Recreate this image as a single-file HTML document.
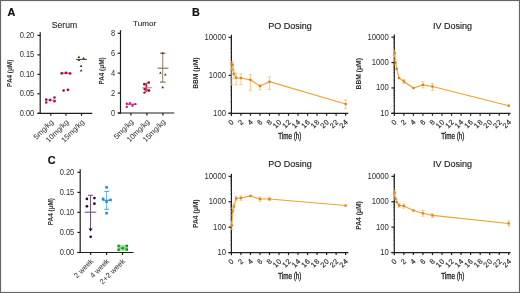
<!DOCTYPE html>
<html><head><meta charset="utf-8"><style>
html,body{margin:0;padding:0;background:#fff;width:520px;height:293px;overflow:hidden}
svg{display:block;will-change:transform}
text{font-family:"Liberation Sans", sans-serif}
</style></head><body>
<svg width="520" height="293" viewBox="0 0 520 293" font-family='"Liberation Sans", sans-serif'>
<rect x="0" y="0" width="520" height="293" fill="#fff"/>
<text transform="translate(7.6,15.5) scale(1.0,1)" font-size="10.8" font-weight="bold" fill="#111" stroke="#111" stroke-width="0.2">A</text>
<text x="0.00" y="0.00" font-size="9.3" text-anchor="middle" fill="#222" font-weight="normal" dominant-baseline="alphabetic" transform="translate(64.50,28.10) scale(0.93,1)" stroke="#222" stroke-width="0.1">Serum</text>
<line x1="40.20" y1="32.28" x2="40.20" y2="113.90" stroke="#1e1e1e" stroke-width="1.2" />
<line x1="37.40" y1="113.30" x2="40.20" y2="113.30" stroke="#1e1e1e" stroke-width="1.2" />
<text x="0.00" y="0.00" font-size="8.6" text-anchor="end" fill="#2e2e2e" font-weight="normal" dominant-baseline="central" transform="translate(34.20,113.20) scale(0.87,1)" >0.00</text>
<line x1="37.40" y1="93.82" x2="40.20" y2="93.82" stroke="#1e1e1e" stroke-width="1.2" />
<text x="0.00" y="0.00" font-size="8.6" text-anchor="end" fill="#2e2e2e" font-weight="normal" dominant-baseline="central" transform="translate(34.20,93.72) scale(0.87,1)" >0.05</text>
<line x1="37.40" y1="74.34" x2="40.20" y2="74.34" stroke="#1e1e1e" stroke-width="1.2" />
<text x="0.00" y="0.00" font-size="8.6" text-anchor="end" fill="#2e2e2e" font-weight="normal" dominant-baseline="central" transform="translate(34.20,74.24) scale(0.87,1)" >0.10</text>
<line x1="37.40" y1="54.86" x2="40.20" y2="54.86" stroke="#1e1e1e" stroke-width="1.2" />
<text x="0.00" y="0.00" font-size="8.6" text-anchor="end" fill="#2e2e2e" font-weight="normal" dominant-baseline="central" transform="translate(34.20,54.76) scale(0.87,1)" >0.15</text>
<line x1="37.40" y1="35.38" x2="40.20" y2="35.38" stroke="#1e1e1e" stroke-width="1.2" />
<text x="0.00" y="0.00" font-size="8.6" text-anchor="end" fill="#2e2e2e" font-weight="normal" dominant-baseline="central" transform="translate(34.20,35.28) scale(0.87,1)" >0.20</text>
<line x1="37.60" y1="113.30" x2="92.30" y2="113.30" stroke="#1e1e1e" stroke-width="1.2" />
<line x1="50.80" y1="113.30" x2="50.80" y2="115.80" stroke="#1e1e1e" stroke-width="1.2" />
<text x="0.00" y="0.00" font-size="7.5" text-anchor="end" fill="#2e2e2e" font-weight="normal" dominant-baseline="central" transform="translate(52.20,120.80) rotate(-45)" >5mg/kg</text>
<line x1="66.00" y1="113.30" x2="66.00" y2="115.80" stroke="#1e1e1e" stroke-width="1.2" />
<text x="0.00" y="0.00" font-size="7.5" text-anchor="end" fill="#2e2e2e" font-weight="normal" dominant-baseline="central" transform="translate(67.40,120.80) rotate(-45)" >10mg/kg</text>
<line x1="81.50" y1="113.30" x2="81.50" y2="115.80" stroke="#1e1e1e" stroke-width="1.2" />
<text x="0.00" y="0.00" font-size="7.5" text-anchor="end" fill="#2e2e2e" font-weight="normal" dominant-baseline="central" transform="translate(82.90,120.80) rotate(-45)" >15mg/kg</text>
<text x="0.00" y="0.00" font-size="7.9" text-anchor="middle" fill="#333" font-weight="bold" dominant-baseline="central" transform="translate(10.30,73.30) rotate(-90) scale(0.81,1)" >PA4 (μM)</text>
<line x1="45.00" y1="100.10" x2="56.00" y2="100.10" stroke="#ee5aa2" stroke-width="1.0" />
<line x1="50.20" y1="98.00" x2="50.20" y2="102.40" stroke="#f08cc0" stroke-width="0.7" />
<circle cx="46.20" cy="99.40" r="1.25" fill="#a00c58"/>
<circle cx="46.20" cy="102.60" r="1.25" fill="#a00c58"/>
<circle cx="50.10" cy="100.00" r="1.25" fill="#a00c58"/>
<circle cx="54.50" cy="97.50" r="1.25" fill="#a00c58"/>
<circle cx="54.50" cy="101.20" r="1.25" fill="#a00c58"/>
<line x1="61.00" y1="73.20" x2="71.30" y2="73.20" stroke="#e83c5c" stroke-width="1.2" />
<circle cx="61.70" cy="73.30" r="1.35" fill="#b00c30"/>
<circle cx="66.00" cy="72.80" r="1.35" fill="#b00c30"/>
<circle cx="70.10" cy="73.50" r="1.35" fill="#b00c30"/>
<circle cx="63.60" cy="90.50" r="1.35" fill="#b00c30"/>
<circle cx="67.90" cy="89.80" r="1.35" fill="#b00c30"/>
<line x1="76.10" y1="59.40" x2="86.90" y2="59.40" stroke="#4a3a28" stroke-width="1.0" />
<polygon points="78.90,55.39 77.50,57.91 80.30,57.91" fill="#5a3c1e"/>
<polygon points="78.90,58.49 77.50,61.01 80.30,61.01" fill="#5a3c1e"/>
<polygon points="83.60,56.69 82.20,59.21 85.00,59.21" fill="#5a3c1e"/>
<polygon points="81.10,64.49 79.70,67.01 82.50,67.01" fill="#5a3c1e"/>
<polygon points="81.10,68.99 79.70,71.51 82.50,71.51" fill="#5a3c1e"/>
<text x="144.60" y="25.50" font-size="8.1" text-anchor="middle" fill="#222" font-weight="normal" dominant-baseline="alphabetic" stroke="#222" stroke-width="0.1">Tumor</text>
<line x1="120.50" y1="30.18" x2="120.50" y2="113.60" stroke="#1e1e1e" stroke-width="1.2" />
<line x1="117.70" y1="113.00" x2="120.50" y2="113.00" stroke="#1e1e1e" stroke-width="1.2" />
<text x="0.00" y="0.00" font-size="8.6" text-anchor="end" fill="#2e2e2e" font-weight="normal" dominant-baseline="central" transform="translate(115.10,112.90) scale(0.87,1)" >0</text>
<line x1="117.70" y1="93.07" x2="120.50" y2="93.07" stroke="#1e1e1e" stroke-width="1.2" />
<text x="0.00" y="0.00" font-size="8.6" text-anchor="end" fill="#2e2e2e" font-weight="normal" dominant-baseline="central" transform="translate(115.10,92.97) scale(0.87,1)" >2</text>
<line x1="117.70" y1="73.14" x2="120.50" y2="73.14" stroke="#1e1e1e" stroke-width="1.2" />
<text x="0.00" y="0.00" font-size="8.6" text-anchor="end" fill="#2e2e2e" font-weight="normal" dominant-baseline="central" transform="translate(115.10,73.04) scale(0.87,1)" >4</text>
<line x1="117.70" y1="53.21" x2="120.50" y2="53.21" stroke="#1e1e1e" stroke-width="1.2" />
<text x="0.00" y="0.00" font-size="8.6" text-anchor="end" fill="#2e2e2e" font-weight="normal" dominant-baseline="central" transform="translate(115.10,53.11) scale(0.87,1)" >6</text>
<line x1="117.70" y1="33.28" x2="120.50" y2="33.28" stroke="#1e1e1e" stroke-width="1.2" />
<text x="0.00" y="0.00" font-size="8.6" text-anchor="end" fill="#2e2e2e" font-weight="normal" dominant-baseline="central" transform="translate(115.10,33.18) scale(0.87,1)" >8</text>
<line x1="117.80" y1="113.00" x2="174.20" y2="113.00" stroke="#1e1e1e" stroke-width="1.2" />
<line x1="130.90" y1="113.00" x2="130.90" y2="115.50" stroke="#1e1e1e" stroke-width="1.2" />
<text x="0.00" y="0.00" font-size="7.5" text-anchor="end" fill="#2e2e2e" font-weight="normal" dominant-baseline="central" transform="translate(132.30,120.50) rotate(-45)" >5mg/kg</text>
<line x1="146.90" y1="113.00" x2="146.90" y2="115.50" stroke="#1e1e1e" stroke-width="1.2" />
<text x="0.00" y="0.00" font-size="7.5" text-anchor="end" fill="#2e2e2e" font-weight="normal" dominant-baseline="central" transform="translate(148.30,120.50) rotate(-45)" >10mg/kg</text>
<line x1="162.90" y1="113.00" x2="162.90" y2="115.50" stroke="#1e1e1e" stroke-width="1.2" />
<text x="0.00" y="0.00" font-size="7.5" text-anchor="end" fill="#2e2e2e" font-weight="normal" dominant-baseline="central" transform="translate(164.30,120.50) rotate(-45)" >15mg/kg</text>
<text x="0.00" y="0.00" font-size="7.9" text-anchor="middle" fill="#333" font-weight="bold" dominant-baseline="central" transform="translate(101.80,71.00) rotate(-90) scale(0.81,1)" >PA4 (μM)</text>
<line x1="126.00" y1="104.30" x2="136.40" y2="104.30" stroke="#ec3a96" stroke-width="1.4" />
<circle cx="126.80" cy="103.60" r="1.15" fill="#c41476"/>
<circle cx="126.80" cy="107.00" r="1.15" fill="#c41476"/>
<circle cx="129.90" cy="103.10" r="1.15" fill="#c41476"/>
<circle cx="132.50" cy="105.80" r="1.15" fill="#c41476"/>
<circle cx="135.40" cy="104.10" r="1.15" fill="#c41476"/>
<line x1="146.30" y1="84.00" x2="146.30" y2="92.00" stroke="#dc1436" stroke-width="1.6" />
<line x1="144.20" y1="84.20" x2="148.80" y2="82.50" stroke="#dc1436" stroke-width="1.0" />
<line x1="144.50" y1="89.30" x2="149.10" y2="90.60" stroke="#f04070" stroke-width="2.2" />
<line x1="142.30" y1="87.80" x2="152.10" y2="87.80" stroke="#b07080" stroke-width="0.9" />
<circle cx="148.80" cy="82.50" r="1.2" fill="#8a0a26"/>
<circle cx="144.20" cy="84.20" r="1.2" fill="#8a0a26"/>
<circle cx="144.50" cy="89.10" r="1.2" fill="#8a0a26"/>
<circle cx="149.10" cy="90.50" r="1.2" fill="#8a0a26"/>
<circle cx="144.50" cy="92.60" r="1.2" fill="#8a0a26"/>
<line x1="162.70" y1="53.20" x2="162.70" y2="82.10" stroke="#a08a6e" stroke-width="1.1" />
<line x1="160.00" y1="53.20" x2="165.40" y2="53.20" stroke="#6a5644" stroke-width="1.0" />
<line x1="160.00" y1="82.10" x2="165.40" y2="82.10" stroke="#6a5644" stroke-width="1.0" />
<line x1="157.60" y1="68.20" x2="168.40" y2="68.20" stroke="#7e6c58" stroke-width="1.1" />
<polygon points="162.70,51.70 161.40,54.04 164.00,54.04" fill="#4a3420"/>
<polygon points="160.40,71.40 159.10,73.74 161.70,73.74" fill="#4a3420"/>
<polygon points="165.30,73.20 164.00,75.54 166.60,75.54" fill="#4a3420"/>
<polygon points="162.70,85.80 161.40,88.14 164.00,88.14" fill="#4a3420"/>
<text transform="translate(47.8,163.9) scale(1.0,1)" font-size="10.8" font-weight="bold" fill="#111" stroke="#111" stroke-width="0.2">C</text>
<line x1="80.20" y1="169.24" x2="80.20" y2="253.10" stroke="#1e1e1e" stroke-width="1.2" />
<line x1="77.40" y1="252.50" x2="80.20" y2="252.50" stroke="#1e1e1e" stroke-width="1.2" />
<text x="0.00" y="0.00" font-size="8.6" text-anchor="end" fill="#2e2e2e" font-weight="normal" dominant-baseline="central" transform="translate(74.20,252.40) scale(0.87,1)" >0.00</text>
<line x1="77.40" y1="232.46" x2="80.20" y2="232.46" stroke="#1e1e1e" stroke-width="1.2" />
<text x="0.00" y="0.00" font-size="8.6" text-anchor="end" fill="#2e2e2e" font-weight="normal" dominant-baseline="central" transform="translate(74.20,232.36) scale(0.87,1)" >0.05</text>
<line x1="77.40" y1="212.42" x2="80.20" y2="212.42" stroke="#1e1e1e" stroke-width="1.2" />
<text x="0.00" y="0.00" font-size="8.6" text-anchor="end" fill="#2e2e2e" font-weight="normal" dominant-baseline="central" transform="translate(74.20,212.32) scale(0.87,1)" >0.10</text>
<line x1="77.40" y1="192.38" x2="80.20" y2="192.38" stroke="#1e1e1e" stroke-width="1.2" />
<text x="0.00" y="0.00" font-size="8.6" text-anchor="end" fill="#2e2e2e" font-weight="normal" dominant-baseline="central" transform="translate(74.20,192.28) scale(0.87,1)" >0.15</text>
<line x1="77.40" y1="172.34" x2="80.20" y2="172.34" stroke="#1e1e1e" stroke-width="1.2" />
<text x="0.00" y="0.00" font-size="8.6" text-anchor="end" fill="#2e2e2e" font-weight="normal" dominant-baseline="central" transform="translate(74.20,172.24) scale(0.87,1)" >0.20</text>
<line x1="77.40" y1="252.50" x2="133.60" y2="252.50" stroke="#1e1e1e" stroke-width="1.2" />
<line x1="90.70" y1="252.50" x2="90.70" y2="255.00" stroke="#1e1e1e" stroke-width="1.2" />
<text x="0.00" y="0.00" font-size="7.5" text-anchor="end" fill="#2e2e2e" font-weight="normal" dominant-baseline="central" transform="translate(92.10,260.00) rotate(-45)" >2 week</text>
<line x1="106.60" y1="252.50" x2="106.60" y2="255.00" stroke="#1e1e1e" stroke-width="1.2" />
<text x="0.00" y="0.00" font-size="7.5" text-anchor="end" fill="#2e2e2e" font-weight="normal" dominant-baseline="central" transform="translate(108.00,260.00) rotate(-45)" >4 week</text>
<line x1="122.50" y1="252.50" x2="122.50" y2="255.00" stroke="#1e1e1e" stroke-width="1.2" />
<text x="0.00" y="0.00" font-size="7.5" text-anchor="end" fill="#2e2e2e" font-weight="normal" dominant-baseline="central" transform="translate(123.90,260.00) rotate(-45)" >2+2 week</text>
<text x="0.00" y="0.00" font-size="7.9" text-anchor="middle" fill="#333" font-weight="bold" dominant-baseline="central" transform="translate(50.40,211.60) rotate(-90) scale(0.81,1)" >PA4 (μM)</text>
<line x1="90.50" y1="195.30" x2="90.50" y2="229.20" stroke="#74547e" stroke-width="1.1" />
<line x1="88.00" y1="195.30" x2="93.00" y2="195.30" stroke="#74547e" stroke-width="1.1" />
<line x1="84.60" y1="212.20" x2="96.20" y2="212.20" stroke="#74547e" stroke-width="1.1" />
<polygon points="88.5,228.6 92.7,228.6 90.6,231.6" fill="#2a0a2e"/>
<circle cx="86.90" cy="198.90" r="1.35" fill="#2a0a2e"/>
<circle cx="94.40" cy="198.10" r="1.35" fill="#2a0a2e"/>
<circle cx="86.90" cy="206.30" r="1.35" fill="#2a0a2e"/>
<circle cx="94.40" cy="203.70" r="1.35" fill="#2a0a2e"/>
<circle cx="90.70" cy="236.80" r="1.35" fill="#2a0a2e"/>
<line x1="106.60" y1="191.40" x2="106.60" y2="209.30" stroke="#50b4ec" stroke-width="0.9" />
<line x1="104.40" y1="191.40" x2="108.90" y2="191.40" stroke="#3aa0dc" stroke-width="1.0" />
<line x1="104.40" y1="209.30" x2="108.90" y2="209.30" stroke="#3aa0dc" stroke-width="1.0" />
<line x1="102.40" y1="200.30" x2="110.80" y2="200.30" stroke="#30b0f0" stroke-width="1.4" />
<rect x="105.30" y="186.00" width="2.6" height="2.6" fill="#2f88c6"/>
<rect x="101.80" y="197.60" width="2.6" height="2.6" fill="#2f88c6"/>
<rect x="105.30" y="200.30" width="2.6" height="2.6" fill="#2f88c6"/>
<rect x="109.20" y="198.70" width="2.6" height="2.6" fill="#2f88c6"/>
<rect x="105.30" y="211.90" width="2.6" height="2.6" fill="#2f88c6"/>
<rect x="117.6" y="245.0" width="10.5" height="5.7" fill="#92e892"/>
<line x1="117.60" y1="248.10" x2="128.10" y2="248.10" stroke="#52d052" stroke-width="1.0" />
<rect x="117.45" y="244.65" width="2.3" height="2.3" fill="#1c8a2a"/>
<rect x="117.45" y="248.75" width="2.3" height="2.3" fill="#1c8a2a"/>
<rect x="121.55" y="247.05" width="2.3" height="2.3" fill="#1c8a2a"/>
<rect x="125.65" y="244.65" width="2.3" height="2.3" fill="#1c8a2a"/>
<rect x="125.65" y="248.45" width="2.3" height="2.3" fill="#1c8a2a"/>
<text transform="translate(192.0,15.8) scale(1.0,1)" font-size="10.8" font-weight="bold" fill="#111" stroke="#111" stroke-width="0.2">B</text>
<line x1="231.40" y1="34.80" x2="231.40" y2="116.10" stroke="#1e1e1e" stroke-width="1.2" />
<line x1="228.50" y1="113.30" x2="231.40" y2="113.30" stroke="#1e1e1e" stroke-width="1.2" />
<text x="0.00" y="0.00" font-size="8.6" text-anchor="end" fill="#2e2e2e" font-weight="normal" dominant-baseline="central" transform="translate(226.00,113.20) scale(0.9,1)" >100</text>
<line x1="230.10" y1="101.88" x2="231.40" y2="101.88" stroke="#444" stroke-width="0.5" />
<line x1="230.10" y1="95.19" x2="231.40" y2="95.19" stroke="#444" stroke-width="0.5" />
<line x1="230.10" y1="90.45" x2="231.40" y2="90.45" stroke="#444" stroke-width="0.5" />
<line x1="230.10" y1="86.77" x2="231.40" y2="86.77" stroke="#444" stroke-width="0.5" />
<line x1="230.10" y1="83.77" x2="231.40" y2="83.77" stroke="#444" stroke-width="0.5" />
<line x1="230.10" y1="81.23" x2="231.40" y2="81.23" stroke="#444" stroke-width="0.5" />
<line x1="230.10" y1="79.03" x2="231.40" y2="79.03" stroke="#444" stroke-width="0.5" />
<line x1="230.10" y1="77.09" x2="231.40" y2="77.09" stroke="#444" stroke-width="0.5" />
<line x1="228.50" y1="75.35" x2="231.40" y2="75.35" stroke="#1e1e1e" stroke-width="1.2" />
<text x="0.00" y="0.00" font-size="8.6" text-anchor="end" fill="#2e2e2e" font-weight="normal" dominant-baseline="central" transform="translate(226.00,75.25) scale(0.9,1)" >1000</text>
<line x1="230.10" y1="63.93" x2="231.40" y2="63.93" stroke="#444" stroke-width="0.5" />
<line x1="230.10" y1="57.24" x2="231.40" y2="57.24" stroke="#444" stroke-width="0.5" />
<line x1="230.10" y1="52.50" x2="231.40" y2="52.50" stroke="#444" stroke-width="0.5" />
<line x1="230.10" y1="48.82" x2="231.40" y2="48.82" stroke="#444" stroke-width="0.5" />
<line x1="230.10" y1="45.82" x2="231.40" y2="45.82" stroke="#444" stroke-width="0.5" />
<line x1="230.10" y1="43.28" x2="231.40" y2="43.28" stroke="#444" stroke-width="0.5" />
<line x1="230.10" y1="41.08" x2="231.40" y2="41.08" stroke="#444" stroke-width="0.5" />
<line x1="230.10" y1="39.14" x2="231.40" y2="39.14" stroke="#444" stroke-width="0.5" />
<line x1="228.50" y1="37.40" x2="231.40" y2="37.40" stroke="#1e1e1e" stroke-width="1.2" />
<text x="0.00" y="0.00" font-size="8.6" text-anchor="end" fill="#2e2e2e" font-weight="normal" dominant-baseline="central" transform="translate(226.00,37.30) scale(0.9,1)" >10000</text>
<line x1="228.50" y1="113.30" x2="348.30" y2="113.30" stroke="#1e1e1e" stroke-width="1.2" />
<line x1="240.92" y1="113.30" x2="240.92" y2="115.80" stroke="#1e1e1e" stroke-width="1.2" />
<line x1="250.44" y1="113.30" x2="250.44" y2="115.80" stroke="#1e1e1e" stroke-width="1.2" />
<line x1="259.96" y1="113.30" x2="259.96" y2="115.80" stroke="#1e1e1e" stroke-width="1.2" />
<line x1="269.48" y1="113.30" x2="269.48" y2="115.80" stroke="#1e1e1e" stroke-width="1.2" />
<line x1="279.00" y1="113.30" x2="279.00" y2="115.80" stroke="#1e1e1e" stroke-width="1.2" />
<line x1="288.52" y1="113.30" x2="288.52" y2="115.80" stroke="#1e1e1e" stroke-width="1.2" />
<line x1="298.04" y1="113.30" x2="298.04" y2="115.80" stroke="#1e1e1e" stroke-width="1.2" />
<line x1="307.56" y1="113.30" x2="307.56" y2="115.80" stroke="#1e1e1e" stroke-width="1.2" />
<line x1="317.08" y1="113.30" x2="317.08" y2="115.80" stroke="#1e1e1e" stroke-width="1.2" />
<line x1="326.60" y1="113.30" x2="326.60" y2="115.80" stroke="#1e1e1e" stroke-width="1.2" />
<line x1="336.12" y1="113.30" x2="336.12" y2="115.80" stroke="#1e1e1e" stroke-width="1.2" />
<line x1="345.64" y1="113.30" x2="345.64" y2="115.80" stroke="#1e1e1e" stroke-width="1.2" />
<text x="0.00" y="0.00" font-size="7.3" text-anchor="end" fill="#2e2e2e" font-weight="normal" dominant-baseline="central" transform="translate(232.90,120.40) rotate(-45)" stroke="#2e2e2e" stroke-width="0.18" letter-spacing="0.6">0</text>
<text x="0.00" y="0.00" font-size="7.3" text-anchor="end" fill="#2e2e2e" font-weight="normal" dominant-baseline="central" transform="translate(242.42,120.40) rotate(-45)" stroke="#2e2e2e" stroke-width="0.18" letter-spacing="0.6">2</text>
<text x="0.00" y="0.00" font-size="7.3" text-anchor="end" fill="#2e2e2e" font-weight="normal" dominant-baseline="central" transform="translate(251.94,120.40) rotate(-45)" stroke="#2e2e2e" stroke-width="0.18" letter-spacing="0.6">4</text>
<text x="0.00" y="0.00" font-size="7.3" text-anchor="end" fill="#2e2e2e" font-weight="normal" dominant-baseline="central" transform="translate(261.46,120.40) rotate(-45)" stroke="#2e2e2e" stroke-width="0.18" letter-spacing="0.6">6</text>
<text x="0.00" y="0.00" font-size="7.3" text-anchor="end" fill="#2e2e2e" font-weight="normal" dominant-baseline="central" transform="translate(270.98,120.40) rotate(-45)" stroke="#2e2e2e" stroke-width="0.18" letter-spacing="0.6">8</text>
<text x="0.00" y="0.00" font-size="7.3" text-anchor="end" fill="#2e2e2e" font-weight="normal" dominant-baseline="central" transform="translate(280.50,120.40) rotate(-45)" stroke="#2e2e2e" stroke-width="0.18" letter-spacing="0.6">10</text>
<text x="0.00" y="0.00" font-size="7.3" text-anchor="end" fill="#2e2e2e" font-weight="normal" dominant-baseline="central" transform="translate(290.02,120.40) rotate(-45)" stroke="#2e2e2e" stroke-width="0.18" letter-spacing="0.6">12</text>
<text x="0.00" y="0.00" font-size="7.3" text-anchor="end" fill="#2e2e2e" font-weight="normal" dominant-baseline="central" transform="translate(299.54,120.40) rotate(-45)" stroke="#2e2e2e" stroke-width="0.18" letter-spacing="0.6">14</text>
<text x="0.00" y="0.00" font-size="7.3" text-anchor="end" fill="#2e2e2e" font-weight="normal" dominant-baseline="central" transform="translate(309.06,120.40) rotate(-45)" stroke="#2e2e2e" stroke-width="0.18" letter-spacing="0.6">16</text>
<text x="0.00" y="0.00" font-size="7.3" text-anchor="end" fill="#2e2e2e" font-weight="normal" dominant-baseline="central" transform="translate(318.58,120.40) rotate(-45)" stroke="#2e2e2e" stroke-width="0.18" letter-spacing="0.6">18</text>
<text x="0.00" y="0.00" font-size="7.3" text-anchor="end" fill="#2e2e2e" font-weight="normal" dominant-baseline="central" transform="translate(328.10,120.40) rotate(-45)" stroke="#2e2e2e" stroke-width="0.18" letter-spacing="0.6">20</text>
<text x="0.00" y="0.00" font-size="7.3" text-anchor="end" fill="#2e2e2e" font-weight="normal" dominant-baseline="central" transform="translate(337.62,120.40) rotate(-45)" stroke="#2e2e2e" stroke-width="0.18" letter-spacing="0.6">22</text>
<text x="0.00" y="0.00" font-size="7.3" text-anchor="end" fill="#2e2e2e" font-weight="normal" dominant-baseline="central" transform="translate(347.14,120.40) rotate(-45)" stroke="#2e2e2e" stroke-width="0.18" letter-spacing="0.6">24</text>
<text x="289.90" y="28.70" font-size="9.0" text-anchor="middle" fill="#222" font-weight="normal" dominant-baseline="alphabetic" stroke="#222" stroke-width="0.15">PO Dosing</text>
<text x="0.00" y="0.00" font-size="8.2" text-anchor="middle" fill="#2a2a2a" font-weight="normal" dominant-baseline="central" transform="translate(289.80,136.10) scale(0.77,1)" stroke="#2a2a2a" stroke-width="0.35">Time (h)</text>
<text x="0.00" y="0.00" font-size="7.9" text-anchor="middle" fill="#333" font-weight="bold" dominant-baseline="central" transform="translate(195.40,73.20) rotate(-90) scale(0.85,1)" >BBM (μM)</text>
<polyline fill="none" stroke="#f0a02c" stroke-width="1.1" points="231.80,69.80 232.59,64.77 233.78,73.78 236.16,77.84 240.92,78.03 250.44,79.87 259.96,86.13 269.48,81.71 345.64,104.08"/>
<line x1="231.80" y1="63.12" x2="231.80" y2="84.91" stroke="#f2bc66" stroke-width="0.75" />
<line x1="230.20" y1="63.12" x2="233.40" y2="63.12" stroke="#f2bc66" stroke-width="0.75" />
<line x1="230.20" y1="84.91" x2="233.40" y2="84.91" stroke="#f2bc66" stroke-width="0.75" />
<rect x="230.65" y="68.65" width="2.3" height="2.3" fill="#e0801e"/>
<line x1="232.59" y1="61.62" x2="232.59" y2="68.67" stroke="#f2bc66" stroke-width="0.75" />
<line x1="230.99" y1="61.62" x2="234.19" y2="61.62" stroke="#f2bc66" stroke-width="0.75" />
<line x1="230.99" y1="68.67" x2="234.19" y2="68.67" stroke="#f2bc66" stroke-width="0.75" />
<rect x="231.44" y="63.62" width="2.3" height="2.3" fill="#e0801e"/>
<line x1="233.78" y1="69.80" x2="233.78" y2="79.03" stroke="#f2bc66" stroke-width="0.75" />
<line x1="232.18" y1="69.80" x2="235.38" y2="69.80" stroke="#f2bc66" stroke-width="0.75" />
<line x1="232.18" y1="79.03" x2="235.38" y2="79.03" stroke="#f2bc66" stroke-width="0.75" />
<rect x="232.63" y="72.63" width="2.3" height="2.3" fill="#e0801e"/>
<line x1="236.16" y1="73.05" x2="236.16" y2="84.91" stroke="#f2bc66" stroke-width="0.75" />
<line x1="234.56" y1="73.05" x2="237.76" y2="73.05" stroke="#f2bc66" stroke-width="0.75" />
<line x1="234.56" y1="84.91" x2="237.76" y2="84.91" stroke="#f2bc66" stroke-width="0.75" />
<rect x="235.01" y="76.69" width="2.3" height="2.3" fill="#e0801e"/>
<line x1="240.92" y1="73.87" x2="240.92" y2="84.50" stroke="#f2bc66" stroke-width="0.75" />
<line x1="239.32" y1="73.87" x2="242.52" y2="73.87" stroke="#f2bc66" stroke-width="0.75" />
<line x1="239.32" y1="84.50" x2="242.52" y2="84.50" stroke="#f2bc66" stroke-width="0.75" />
<rect x="239.77" y="76.88" width="2.3" height="2.3" fill="#e0801e"/>
<line x1="250.44" y1="74.67" x2="250.44" y2="90.29" stroke="#f2bc66" stroke-width="0.75" />
<line x1="248.84" y1="74.67" x2="252.04" y2="74.67" stroke="#f2bc66" stroke-width="0.75" />
<line x1="248.84" y1="90.29" x2="252.04" y2="90.29" stroke="#f2bc66" stroke-width="0.75" />
<rect x="249.29" y="78.72" width="2.3" height="2.3" fill="#e0801e"/>
<line x1="259.96" y1="84.50" x2="259.96" y2="89.81" stroke="#f2bc66" stroke-width="0.75" />
<line x1="258.36" y1="84.50" x2="261.56" y2="84.50" stroke="#f2bc66" stroke-width="0.75" />
<line x1="258.36" y1="89.81" x2="261.56" y2="89.81" stroke="#f2bc66" stroke-width="0.75" />
<rect x="258.81" y="84.98" width="2.3" height="2.3" fill="#e0801e"/>
<line x1="269.48" y1="76.94" x2="269.48" y2="89.34" stroke="#f2bc66" stroke-width="0.75" />
<line x1="267.88" y1="76.94" x2="271.08" y2="76.94" stroke="#f2bc66" stroke-width="0.75" />
<line x1="267.88" y1="89.34" x2="271.08" y2="89.34" stroke="#f2bc66" stroke-width="0.75" />
<rect x="268.33" y="80.56" width="2.3" height="2.3" fill="#e0801e"/>
<line x1="345.64" y1="99.93" x2="345.64" y2="108.35" stroke="#f2bc66" stroke-width="0.75" />
<line x1="344.04" y1="99.93" x2="347.24" y2="99.93" stroke="#f2bc66" stroke-width="0.75" />
<line x1="344.04" y1="108.35" x2="347.24" y2="108.35" stroke="#f2bc66" stroke-width="0.75" />
<rect x="344.49" y="102.93" width="2.3" height="2.3" fill="#e0801e"/>
<line x1="394.30" y1="34.56" x2="394.30" y2="116.10" stroke="#1e1e1e" stroke-width="1.2" />
<line x1="391.40" y1="113.30" x2="394.30" y2="113.30" stroke="#1e1e1e" stroke-width="1.2" />
<text x="0.00" y="0.00" font-size="8.6" text-anchor="end" fill="#2e2e2e" font-weight="normal" dominant-baseline="central" transform="translate(388.90,113.20) scale(0.9,1)" >10</text>
<line x1="393.00" y1="105.66" x2="394.30" y2="105.66" stroke="#444" stroke-width="0.5" />
<line x1="393.00" y1="101.19" x2="394.30" y2="101.19" stroke="#444" stroke-width="0.5" />
<line x1="393.00" y1="98.02" x2="394.30" y2="98.02" stroke="#444" stroke-width="0.5" />
<line x1="393.00" y1="95.56" x2="394.30" y2="95.56" stroke="#444" stroke-width="0.5" />
<line x1="393.00" y1="93.55" x2="394.30" y2="93.55" stroke="#444" stroke-width="0.5" />
<line x1="393.00" y1="91.85" x2="394.30" y2="91.85" stroke="#444" stroke-width="0.5" />
<line x1="393.00" y1="90.38" x2="394.30" y2="90.38" stroke="#444" stroke-width="0.5" />
<line x1="393.00" y1="89.08" x2="394.30" y2="89.08" stroke="#444" stroke-width="0.5" />
<line x1="391.40" y1="87.92" x2="394.30" y2="87.92" stroke="#1e1e1e" stroke-width="1.2" />
<text x="0.00" y="0.00" font-size="8.6" text-anchor="end" fill="#2e2e2e" font-weight="normal" dominant-baseline="central" transform="translate(388.90,87.82) scale(0.9,1)" >100</text>
<line x1="393.00" y1="80.28" x2="394.30" y2="80.28" stroke="#444" stroke-width="0.5" />
<line x1="393.00" y1="75.81" x2="394.30" y2="75.81" stroke="#444" stroke-width="0.5" />
<line x1="393.00" y1="72.64" x2="394.30" y2="72.64" stroke="#444" stroke-width="0.5" />
<line x1="393.00" y1="70.18" x2="394.30" y2="70.18" stroke="#444" stroke-width="0.5" />
<line x1="393.00" y1="68.17" x2="394.30" y2="68.17" stroke="#444" stroke-width="0.5" />
<line x1="393.00" y1="66.47" x2="394.30" y2="66.47" stroke="#444" stroke-width="0.5" />
<line x1="393.00" y1="65.00" x2="394.30" y2="65.00" stroke="#444" stroke-width="0.5" />
<line x1="393.00" y1="63.70" x2="394.30" y2="63.70" stroke="#444" stroke-width="0.5" />
<line x1="391.40" y1="62.54" x2="394.30" y2="62.54" stroke="#1e1e1e" stroke-width="1.2" />
<text x="0.00" y="0.00" font-size="8.6" text-anchor="end" fill="#2e2e2e" font-weight="normal" dominant-baseline="central" transform="translate(388.90,62.44) scale(0.9,1)" >1000</text>
<line x1="393.00" y1="54.90" x2="394.30" y2="54.90" stroke="#444" stroke-width="0.5" />
<line x1="393.00" y1="50.43" x2="394.30" y2="50.43" stroke="#444" stroke-width="0.5" />
<line x1="393.00" y1="47.26" x2="394.30" y2="47.26" stroke="#444" stroke-width="0.5" />
<line x1="393.00" y1="44.80" x2="394.30" y2="44.80" stroke="#444" stroke-width="0.5" />
<line x1="393.00" y1="42.79" x2="394.30" y2="42.79" stroke="#444" stroke-width="0.5" />
<line x1="393.00" y1="41.09" x2="394.30" y2="41.09" stroke="#444" stroke-width="0.5" />
<line x1="393.00" y1="39.62" x2="394.30" y2="39.62" stroke="#444" stroke-width="0.5" />
<line x1="393.00" y1="38.32" x2="394.30" y2="38.32" stroke="#444" stroke-width="0.5" />
<line x1="391.40" y1="37.16" x2="394.30" y2="37.16" stroke="#1e1e1e" stroke-width="1.2" />
<text x="0.00" y="0.00" font-size="8.6" text-anchor="end" fill="#2e2e2e" font-weight="normal" dominant-baseline="central" transform="translate(388.90,37.06) scale(0.9,1)" >10000</text>
<line x1="391.40" y1="113.30" x2="510.60" y2="113.30" stroke="#1e1e1e" stroke-width="1.2" />
<line x1="403.84" y1="113.30" x2="403.84" y2="115.80" stroke="#1e1e1e" stroke-width="1.2" />
<line x1="413.38" y1="113.30" x2="413.38" y2="115.80" stroke="#1e1e1e" stroke-width="1.2" />
<line x1="422.92" y1="113.30" x2="422.92" y2="115.80" stroke="#1e1e1e" stroke-width="1.2" />
<line x1="432.46" y1="113.30" x2="432.46" y2="115.80" stroke="#1e1e1e" stroke-width="1.2" />
<line x1="442.00" y1="113.30" x2="442.00" y2="115.80" stroke="#1e1e1e" stroke-width="1.2" />
<line x1="451.54" y1="113.30" x2="451.54" y2="115.80" stroke="#1e1e1e" stroke-width="1.2" />
<line x1="461.08" y1="113.30" x2="461.08" y2="115.80" stroke="#1e1e1e" stroke-width="1.2" />
<line x1="470.62" y1="113.30" x2="470.62" y2="115.80" stroke="#1e1e1e" stroke-width="1.2" />
<line x1="480.16" y1="113.30" x2="480.16" y2="115.80" stroke="#1e1e1e" stroke-width="1.2" />
<line x1="489.70" y1="113.30" x2="489.70" y2="115.80" stroke="#1e1e1e" stroke-width="1.2" />
<line x1="499.24" y1="113.30" x2="499.24" y2="115.80" stroke="#1e1e1e" stroke-width="1.2" />
<line x1="508.78" y1="113.30" x2="508.78" y2="115.80" stroke="#1e1e1e" stroke-width="1.2" />
<text x="0.00" y="0.00" font-size="7.3" text-anchor="end" fill="#2e2e2e" font-weight="normal" dominant-baseline="central" transform="translate(395.80,120.40) rotate(-45)" stroke="#2e2e2e" stroke-width="0.18" letter-spacing="0.6">0</text>
<text x="0.00" y="0.00" font-size="7.3" text-anchor="end" fill="#2e2e2e" font-weight="normal" dominant-baseline="central" transform="translate(405.34,120.40) rotate(-45)" stroke="#2e2e2e" stroke-width="0.18" letter-spacing="0.6">2</text>
<text x="0.00" y="0.00" font-size="7.3" text-anchor="end" fill="#2e2e2e" font-weight="normal" dominant-baseline="central" transform="translate(414.88,120.40) rotate(-45)" stroke="#2e2e2e" stroke-width="0.18" letter-spacing="0.6">4</text>
<text x="0.00" y="0.00" font-size="7.3" text-anchor="end" fill="#2e2e2e" font-weight="normal" dominant-baseline="central" transform="translate(424.42,120.40) rotate(-45)" stroke="#2e2e2e" stroke-width="0.18" letter-spacing="0.6">6</text>
<text x="0.00" y="0.00" font-size="7.3" text-anchor="end" fill="#2e2e2e" font-weight="normal" dominant-baseline="central" transform="translate(433.96,120.40) rotate(-45)" stroke="#2e2e2e" stroke-width="0.18" letter-spacing="0.6">8</text>
<text x="0.00" y="0.00" font-size="7.3" text-anchor="end" fill="#2e2e2e" font-weight="normal" dominant-baseline="central" transform="translate(443.50,120.40) rotate(-45)" stroke="#2e2e2e" stroke-width="0.18" letter-spacing="0.6">10</text>
<text x="0.00" y="0.00" font-size="7.3" text-anchor="end" fill="#2e2e2e" font-weight="normal" dominant-baseline="central" transform="translate(453.04,120.40) rotate(-45)" stroke="#2e2e2e" stroke-width="0.18" letter-spacing="0.6">12</text>
<text x="0.00" y="0.00" font-size="7.3" text-anchor="end" fill="#2e2e2e" font-weight="normal" dominant-baseline="central" transform="translate(462.58,120.40) rotate(-45)" stroke="#2e2e2e" stroke-width="0.18" letter-spacing="0.6">14</text>
<text x="0.00" y="0.00" font-size="7.3" text-anchor="end" fill="#2e2e2e" font-weight="normal" dominant-baseline="central" transform="translate(472.12,120.40) rotate(-45)" stroke="#2e2e2e" stroke-width="0.18" letter-spacing="0.6">16</text>
<text x="0.00" y="0.00" font-size="7.3" text-anchor="end" fill="#2e2e2e" font-weight="normal" dominant-baseline="central" transform="translate(481.66,120.40) rotate(-45)" stroke="#2e2e2e" stroke-width="0.18" letter-spacing="0.6">18</text>
<text x="0.00" y="0.00" font-size="7.3" text-anchor="end" fill="#2e2e2e" font-weight="normal" dominant-baseline="central" transform="translate(491.20,120.40) rotate(-45)" stroke="#2e2e2e" stroke-width="0.18" letter-spacing="0.6">20</text>
<text x="0.00" y="0.00" font-size="7.3" text-anchor="end" fill="#2e2e2e" font-weight="normal" dominant-baseline="central" transform="translate(500.74,120.40) rotate(-45)" stroke="#2e2e2e" stroke-width="0.18" letter-spacing="0.6">22</text>
<text x="0.00" y="0.00" font-size="7.3" text-anchor="end" fill="#2e2e2e" font-weight="normal" dominant-baseline="central" transform="translate(510.28,120.40) rotate(-45)" stroke="#2e2e2e" stroke-width="0.18" letter-spacing="0.6">24</text>
<text x="452.60" y="28.70" font-size="9.0" text-anchor="middle" fill="#222" font-weight="normal" dominant-baseline="alphabetic" stroke="#222" stroke-width="0.15">IV Dosing</text>
<text x="0.00" y="0.00" font-size="8.2" text-anchor="middle" fill="#2a2a2a" font-weight="normal" dominant-baseline="central" transform="translate(452.80,136.10) scale(0.77,1)" stroke="#2a2a2a" stroke-width="0.35">Time (h)</text>
<text x="0.00" y="0.00" font-size="7.9" text-anchor="middle" fill="#333" font-weight="bold" dominant-baseline="central" transform="translate(358.60,73.80) rotate(-90) scale(0.85,1)" >BBM (μM)</text>
<polyline fill="none" stroke="#f0a02c" stroke-width="1.1" points="394.70,52.89 395.49,62.54 396.69,68.93 399.07,78.04 403.84,81.44 413.38,88.03 422.92,84.86 432.46,86.57 508.78,105.66"/>
<line x1="394.70" y1="50.43" x2="394.70" y2="56.69" stroke="#f2bc66" stroke-width="0.75" />
<line x1="393.10" y1="50.43" x2="396.30" y2="50.43" stroke="#f2bc66" stroke-width="0.75" />
<line x1="393.10" y1="56.69" x2="396.30" y2="56.69" stroke="#f2bc66" stroke-width="0.75" />
<rect x="393.55" y="51.74" width="2.3" height="2.3" fill="#e0801e"/>
<line x1="395.49" y1="60.08" x2="395.49" y2="65.00" stroke="#f2bc66" stroke-width="0.75" />
<line x1="393.89" y1="60.08" x2="397.09" y2="60.08" stroke="#f2bc66" stroke-width="0.75" />
<line x1="393.89" y1="65.00" x2="397.09" y2="65.00" stroke="#f2bc66" stroke-width="0.75" />
<rect x="394.34" y="61.39" width="2.3" height="2.3" fill="#e0801e"/>
<rect x="395.54" y="67.78" width="2.3" height="2.3" fill="#e0801e"/>
<rect x="397.92" y="76.89" width="2.3" height="2.3" fill="#e0801e"/>
<line x1="403.84" y1="79.48" x2="403.84" y2="83.45" stroke="#f2bc66" stroke-width="0.75" />
<line x1="402.24" y1="79.48" x2="405.44" y2="79.48" stroke="#f2bc66" stroke-width="0.75" />
<line x1="402.24" y1="83.45" x2="405.44" y2="83.45" stroke="#f2bc66" stroke-width="0.75" />
<rect x="402.69" y="80.29" width="2.3" height="2.3" fill="#e0801e"/>
<rect x="412.23" y="86.88" width="2.3" height="2.3" fill="#e0801e"/>
<line x1="422.92" y1="81.75" x2="422.92" y2="87.92" stroke="#f2bc66" stroke-width="0.75" />
<line x1="421.32" y1="81.75" x2="424.52" y2="81.75" stroke="#f2bc66" stroke-width="0.75" />
<line x1="421.32" y1="87.92" x2="424.52" y2="87.92" stroke="#f2bc66" stroke-width="0.75" />
<rect x="421.77" y="83.71" width="2.3" height="2.3" fill="#e0801e"/>
<line x1="432.46" y1="83.45" x2="432.46" y2="90.38" stroke="#f2bc66" stroke-width="0.75" />
<line x1="430.86" y1="83.45" x2="434.06" y2="83.45" stroke="#f2bc66" stroke-width="0.75" />
<line x1="430.86" y1="90.38" x2="434.06" y2="90.38" stroke="#f2bc66" stroke-width="0.75" />
<rect x="431.31" y="85.42" width="2.3" height="2.3" fill="#e0801e"/>
<rect x="507.63" y="104.51" width="2.3" height="2.3" fill="#e0801e"/>
<line x1="231.40" y1="173.75" x2="231.40" y2="255.35" stroke="#1e1e1e" stroke-width="1.2" />
<line x1="228.50" y1="252.55" x2="231.40" y2="252.55" stroke="#1e1e1e" stroke-width="1.2" />
<text x="0.00" y="0.00" font-size="8.6" text-anchor="end" fill="#2e2e2e" font-weight="normal" dominant-baseline="central" transform="translate(226.00,252.45) scale(0.9,1)" >10</text>
<line x1="230.10" y1="244.90" x2="231.40" y2="244.90" stroke="#444" stroke-width="0.5" />
<line x1="230.10" y1="240.43" x2="231.40" y2="240.43" stroke="#444" stroke-width="0.5" />
<line x1="230.10" y1="237.26" x2="231.40" y2="237.26" stroke="#444" stroke-width="0.5" />
<line x1="230.10" y1="234.80" x2="231.40" y2="234.80" stroke="#444" stroke-width="0.5" />
<line x1="230.10" y1="232.78" x2="231.40" y2="232.78" stroke="#444" stroke-width="0.5" />
<line x1="230.10" y1="231.08" x2="231.40" y2="231.08" stroke="#444" stroke-width="0.5" />
<line x1="230.10" y1="229.61" x2="231.40" y2="229.61" stroke="#444" stroke-width="0.5" />
<line x1="230.10" y1="228.31" x2="231.40" y2="228.31" stroke="#444" stroke-width="0.5" />
<line x1="228.50" y1="227.15" x2="231.40" y2="227.15" stroke="#1e1e1e" stroke-width="1.2" />
<text x="0.00" y="0.00" font-size="8.6" text-anchor="end" fill="#2e2e2e" font-weight="normal" dominant-baseline="central" transform="translate(226.00,227.05) scale(0.9,1)" >100</text>
<line x1="230.10" y1="219.50" x2="231.40" y2="219.50" stroke="#444" stroke-width="0.5" />
<line x1="230.10" y1="215.03" x2="231.40" y2="215.03" stroke="#444" stroke-width="0.5" />
<line x1="230.10" y1="211.86" x2="231.40" y2="211.86" stroke="#444" stroke-width="0.5" />
<line x1="230.10" y1="209.40" x2="231.40" y2="209.40" stroke="#444" stroke-width="0.5" />
<line x1="230.10" y1="207.38" x2="231.40" y2="207.38" stroke="#444" stroke-width="0.5" />
<line x1="230.10" y1="205.68" x2="231.40" y2="205.68" stroke="#444" stroke-width="0.5" />
<line x1="230.10" y1="204.21" x2="231.40" y2="204.21" stroke="#444" stroke-width="0.5" />
<line x1="230.10" y1="202.91" x2="231.40" y2="202.91" stroke="#444" stroke-width="0.5" />
<line x1="228.50" y1="201.75" x2="231.40" y2="201.75" stroke="#1e1e1e" stroke-width="1.2" />
<text x="0.00" y="0.00" font-size="8.6" text-anchor="end" fill="#2e2e2e" font-weight="normal" dominant-baseline="central" transform="translate(226.00,201.65) scale(0.9,1)" >1000</text>
<line x1="230.10" y1="194.10" x2="231.40" y2="194.10" stroke="#444" stroke-width="0.5" />
<line x1="230.10" y1="189.63" x2="231.40" y2="189.63" stroke="#444" stroke-width="0.5" />
<line x1="230.10" y1="186.46" x2="231.40" y2="186.46" stroke="#444" stroke-width="0.5" />
<line x1="230.10" y1="184.00" x2="231.40" y2="184.00" stroke="#444" stroke-width="0.5" />
<line x1="230.10" y1="181.98" x2="231.40" y2="181.98" stroke="#444" stroke-width="0.5" />
<line x1="230.10" y1="180.28" x2="231.40" y2="180.28" stroke="#444" stroke-width="0.5" />
<line x1="230.10" y1="178.81" x2="231.40" y2="178.81" stroke="#444" stroke-width="0.5" />
<line x1="230.10" y1="177.51" x2="231.40" y2="177.51" stroke="#444" stroke-width="0.5" />
<line x1="228.50" y1="176.35" x2="231.40" y2="176.35" stroke="#1e1e1e" stroke-width="1.2" />
<text x="0.00" y="0.00" font-size="8.6" text-anchor="end" fill="#2e2e2e" font-weight="normal" dominant-baseline="central" transform="translate(226.00,176.25) scale(0.9,1)" >10000</text>
<line x1="228.50" y1="252.55" x2="348.30" y2="252.55" stroke="#1e1e1e" stroke-width="1.2" />
<line x1="240.92" y1="252.55" x2="240.92" y2="255.05" stroke="#1e1e1e" stroke-width="1.2" />
<line x1="250.44" y1="252.55" x2="250.44" y2="255.05" stroke="#1e1e1e" stroke-width="1.2" />
<line x1="259.96" y1="252.55" x2="259.96" y2="255.05" stroke="#1e1e1e" stroke-width="1.2" />
<line x1="269.48" y1="252.55" x2="269.48" y2="255.05" stroke="#1e1e1e" stroke-width="1.2" />
<line x1="279.00" y1="252.55" x2="279.00" y2="255.05" stroke="#1e1e1e" stroke-width="1.2" />
<line x1="288.52" y1="252.55" x2="288.52" y2="255.05" stroke="#1e1e1e" stroke-width="1.2" />
<line x1="298.04" y1="252.55" x2="298.04" y2="255.05" stroke="#1e1e1e" stroke-width="1.2" />
<line x1="307.56" y1="252.55" x2="307.56" y2="255.05" stroke="#1e1e1e" stroke-width="1.2" />
<line x1="317.08" y1="252.55" x2="317.08" y2="255.05" stroke="#1e1e1e" stroke-width="1.2" />
<line x1="326.60" y1="252.55" x2="326.60" y2="255.05" stroke="#1e1e1e" stroke-width="1.2" />
<line x1="336.12" y1="252.55" x2="336.12" y2="255.05" stroke="#1e1e1e" stroke-width="1.2" />
<line x1="345.64" y1="252.55" x2="345.64" y2="255.05" stroke="#1e1e1e" stroke-width="1.2" />
<text x="0.00" y="0.00" font-size="7.3" text-anchor="end" fill="#2e2e2e" font-weight="normal" dominant-baseline="central" transform="translate(232.90,259.65) rotate(-45)" stroke="#2e2e2e" stroke-width="0.18" letter-spacing="0.6">0</text>
<text x="0.00" y="0.00" font-size="7.3" text-anchor="end" fill="#2e2e2e" font-weight="normal" dominant-baseline="central" transform="translate(242.42,259.65) rotate(-45)" stroke="#2e2e2e" stroke-width="0.18" letter-spacing="0.6">2</text>
<text x="0.00" y="0.00" font-size="7.3" text-anchor="end" fill="#2e2e2e" font-weight="normal" dominant-baseline="central" transform="translate(251.94,259.65) rotate(-45)" stroke="#2e2e2e" stroke-width="0.18" letter-spacing="0.6">4</text>
<text x="0.00" y="0.00" font-size="7.3" text-anchor="end" fill="#2e2e2e" font-weight="normal" dominant-baseline="central" transform="translate(261.46,259.65) rotate(-45)" stroke="#2e2e2e" stroke-width="0.18" letter-spacing="0.6">6</text>
<text x="0.00" y="0.00" font-size="7.3" text-anchor="end" fill="#2e2e2e" font-weight="normal" dominant-baseline="central" transform="translate(270.98,259.65) rotate(-45)" stroke="#2e2e2e" stroke-width="0.18" letter-spacing="0.6">8</text>
<text x="0.00" y="0.00" font-size="7.3" text-anchor="end" fill="#2e2e2e" font-weight="normal" dominant-baseline="central" transform="translate(280.50,259.65) rotate(-45)" stroke="#2e2e2e" stroke-width="0.18" letter-spacing="0.6">10</text>
<text x="0.00" y="0.00" font-size="7.3" text-anchor="end" fill="#2e2e2e" font-weight="normal" dominant-baseline="central" transform="translate(290.02,259.65) rotate(-45)" stroke="#2e2e2e" stroke-width="0.18" letter-spacing="0.6">12</text>
<text x="0.00" y="0.00" font-size="7.3" text-anchor="end" fill="#2e2e2e" font-weight="normal" dominant-baseline="central" transform="translate(299.54,259.65) rotate(-45)" stroke="#2e2e2e" stroke-width="0.18" letter-spacing="0.6">14</text>
<text x="0.00" y="0.00" font-size="7.3" text-anchor="end" fill="#2e2e2e" font-weight="normal" dominant-baseline="central" transform="translate(309.06,259.65) rotate(-45)" stroke="#2e2e2e" stroke-width="0.18" letter-spacing="0.6">16</text>
<text x="0.00" y="0.00" font-size="7.3" text-anchor="end" fill="#2e2e2e" font-weight="normal" dominant-baseline="central" transform="translate(318.58,259.65) rotate(-45)" stroke="#2e2e2e" stroke-width="0.18" letter-spacing="0.6">18</text>
<text x="0.00" y="0.00" font-size="7.3" text-anchor="end" fill="#2e2e2e" font-weight="normal" dominant-baseline="central" transform="translate(328.10,259.65) rotate(-45)" stroke="#2e2e2e" stroke-width="0.18" letter-spacing="0.6">20</text>
<text x="0.00" y="0.00" font-size="7.3" text-anchor="end" fill="#2e2e2e" font-weight="normal" dominant-baseline="central" transform="translate(337.62,259.65) rotate(-45)" stroke="#2e2e2e" stroke-width="0.18" letter-spacing="0.6">22</text>
<text x="0.00" y="0.00" font-size="7.3" text-anchor="end" fill="#2e2e2e" font-weight="normal" dominant-baseline="central" transform="translate(347.14,259.65) rotate(-45)" stroke="#2e2e2e" stroke-width="0.18" letter-spacing="0.6">24</text>
<text x="289.90" y="167.10" font-size="9.0" text-anchor="middle" fill="#222" font-weight="normal" dominant-baseline="alphabetic" stroke="#222" stroke-width="0.15">PO Dosing</text>
<text x="0.00" y="0.00" font-size="8.2" text-anchor="middle" fill="#2a2a2a" font-weight="normal" dominant-baseline="central" transform="translate(289.80,276.10) scale(0.77,1)" stroke="#2a2a2a" stroke-width="0.35">Time (h)</text>
<text x="0.00" y="0.00" font-size="7.9" text-anchor="middle" fill="#333" font-weight="bold" dominant-baseline="central" transform="translate(195.30,213.70) rotate(-90) scale(0.85,1)" >PA4 (μM)</text>
<polyline fill="none" stroke="#f0a02c" stroke-width="1.1" points="231.80,225.42 232.59,211.32 233.78,206.50 236.16,198.44 240.92,198.04 250.44,195.90 259.96,199.03 269.48,199.03 345.64,205.53"/>
<line x1="231.80" y1="221.97" x2="231.80" y2="229.61" stroke="#f2bc66" stroke-width="0.75" />
<line x1="230.20" y1="221.97" x2="233.40" y2="221.97" stroke="#f2bc66" stroke-width="0.75" />
<line x1="230.20" y1="229.61" x2="233.40" y2="229.61" stroke="#f2bc66" stroke-width="0.75" />
<rect x="230.65" y="224.27" width="2.3" height="2.3" fill="#e0801e"/>
<line x1="232.59" y1="208.15" x2="232.59" y2="215.03" stroke="#f2bc66" stroke-width="0.75" />
<line x1="230.99" y1="208.15" x2="234.19" y2="208.15" stroke="#f2bc66" stroke-width="0.75" />
<line x1="230.99" y1="215.03" x2="234.19" y2="215.03" stroke="#f2bc66" stroke-width="0.75" />
<rect x="231.44" y="210.17" width="2.3" height="2.3" fill="#e0801e"/>
<line x1="233.78" y1="204.21" x2="233.78" y2="209.40" stroke="#f2bc66" stroke-width="0.75" />
<line x1="232.18" y1="204.21" x2="235.38" y2="204.21" stroke="#f2bc66" stroke-width="0.75" />
<line x1="232.18" y1="209.40" x2="235.38" y2="209.40" stroke="#f2bc66" stroke-width="0.75" />
<rect x="232.63" y="205.35" width="2.3" height="2.3" fill="#e0801e"/>
<line x1="236.16" y1="196.57" x2="236.16" y2="200.70" stroke="#f2bc66" stroke-width="0.75" />
<line x1="234.56" y1="196.57" x2="237.76" y2="196.57" stroke="#f2bc66" stroke-width="0.75" />
<line x1="234.56" y1="200.70" x2="237.76" y2="200.70" stroke="#f2bc66" stroke-width="0.75" />
<rect x="235.01" y="197.29" width="2.3" height="2.3" fill="#e0801e"/>
<line x1="240.92" y1="195.90" x2="240.92" y2="200.21" stroke="#f2bc66" stroke-width="0.75" />
<line x1="239.32" y1="195.90" x2="242.52" y2="195.90" stroke="#f2bc66" stroke-width="0.75" />
<line x1="239.32" y1="200.21" x2="242.52" y2="200.21" stroke="#f2bc66" stroke-width="0.75" />
<rect x="239.77" y="196.89" width="2.3" height="2.3" fill="#e0801e"/>
<rect x="249.29" y="194.75" width="2.3" height="2.3" fill="#e0801e"/>
<line x1="259.96" y1="196.92" x2="259.96" y2="201.21" stroke="#f2bc66" stroke-width="0.75" />
<line x1="258.36" y1="196.92" x2="261.56" y2="196.92" stroke="#f2bc66" stroke-width="0.75" />
<line x1="258.36" y1="201.21" x2="261.56" y2="201.21" stroke="#f2bc66" stroke-width="0.75" />
<rect x="258.81" y="197.88" width="2.3" height="2.3" fill="#e0801e"/>
<line x1="269.48" y1="197.28" x2="269.48" y2="200.70" stroke="#f2bc66" stroke-width="0.75" />
<line x1="267.88" y1="197.28" x2="271.08" y2="197.28" stroke="#f2bc66" stroke-width="0.75" />
<line x1="267.88" y1="200.70" x2="271.08" y2="200.70" stroke="#f2bc66" stroke-width="0.75" />
<rect x="268.33" y="197.88" width="2.3" height="2.3" fill="#e0801e"/>
<rect x="344.49" y="204.38" width="2.3" height="2.3" fill="#e0801e"/>
<line x1="394.30" y1="173.75" x2="394.30" y2="255.35" stroke="#1e1e1e" stroke-width="1.2" />
<line x1="391.40" y1="252.55" x2="394.30" y2="252.55" stroke="#1e1e1e" stroke-width="1.2" />
<text x="0.00" y="0.00" font-size="8.6" text-anchor="end" fill="#2e2e2e" font-weight="normal" dominant-baseline="central" transform="translate(388.90,252.45) scale(0.9,1)" >10</text>
<line x1="393.00" y1="244.90" x2="394.30" y2="244.90" stroke="#444" stroke-width="0.5" />
<line x1="393.00" y1="240.43" x2="394.30" y2="240.43" stroke="#444" stroke-width="0.5" />
<line x1="393.00" y1="237.26" x2="394.30" y2="237.26" stroke="#444" stroke-width="0.5" />
<line x1="393.00" y1="234.80" x2="394.30" y2="234.80" stroke="#444" stroke-width="0.5" />
<line x1="393.00" y1="232.78" x2="394.30" y2="232.78" stroke="#444" stroke-width="0.5" />
<line x1="393.00" y1="231.08" x2="394.30" y2="231.08" stroke="#444" stroke-width="0.5" />
<line x1="393.00" y1="229.61" x2="394.30" y2="229.61" stroke="#444" stroke-width="0.5" />
<line x1="393.00" y1="228.31" x2="394.30" y2="228.31" stroke="#444" stroke-width="0.5" />
<line x1="391.40" y1="227.15" x2="394.30" y2="227.15" stroke="#1e1e1e" stroke-width="1.2" />
<text x="0.00" y="0.00" font-size="8.6" text-anchor="end" fill="#2e2e2e" font-weight="normal" dominant-baseline="central" transform="translate(388.90,227.05) scale(0.9,1)" >100</text>
<line x1="393.00" y1="219.50" x2="394.30" y2="219.50" stroke="#444" stroke-width="0.5" />
<line x1="393.00" y1="215.03" x2="394.30" y2="215.03" stroke="#444" stroke-width="0.5" />
<line x1="393.00" y1="211.86" x2="394.30" y2="211.86" stroke="#444" stroke-width="0.5" />
<line x1="393.00" y1="209.40" x2="394.30" y2="209.40" stroke="#444" stroke-width="0.5" />
<line x1="393.00" y1="207.38" x2="394.30" y2="207.38" stroke="#444" stroke-width="0.5" />
<line x1="393.00" y1="205.68" x2="394.30" y2="205.68" stroke="#444" stroke-width="0.5" />
<line x1="393.00" y1="204.21" x2="394.30" y2="204.21" stroke="#444" stroke-width="0.5" />
<line x1="393.00" y1="202.91" x2="394.30" y2="202.91" stroke="#444" stroke-width="0.5" />
<line x1="391.40" y1="201.75" x2="394.30" y2="201.75" stroke="#1e1e1e" stroke-width="1.2" />
<text x="0.00" y="0.00" font-size="8.6" text-anchor="end" fill="#2e2e2e" font-weight="normal" dominant-baseline="central" transform="translate(388.90,201.65) scale(0.9,1)" >1000</text>
<line x1="393.00" y1="194.10" x2="394.30" y2="194.10" stroke="#444" stroke-width="0.5" />
<line x1="393.00" y1="189.63" x2="394.30" y2="189.63" stroke="#444" stroke-width="0.5" />
<line x1="393.00" y1="186.46" x2="394.30" y2="186.46" stroke="#444" stroke-width="0.5" />
<line x1="393.00" y1="184.00" x2="394.30" y2="184.00" stroke="#444" stroke-width="0.5" />
<line x1="393.00" y1="181.98" x2="394.30" y2="181.98" stroke="#444" stroke-width="0.5" />
<line x1="393.00" y1="180.28" x2="394.30" y2="180.28" stroke="#444" stroke-width="0.5" />
<line x1="393.00" y1="178.81" x2="394.30" y2="178.81" stroke="#444" stroke-width="0.5" />
<line x1="393.00" y1="177.51" x2="394.30" y2="177.51" stroke="#444" stroke-width="0.5" />
<line x1="391.40" y1="176.35" x2="394.30" y2="176.35" stroke="#1e1e1e" stroke-width="1.2" />
<text x="0.00" y="0.00" font-size="8.6" text-anchor="end" fill="#2e2e2e" font-weight="normal" dominant-baseline="central" transform="translate(388.90,176.25) scale(0.9,1)" >10000</text>
<line x1="391.40" y1="252.55" x2="510.60" y2="252.55" stroke="#1e1e1e" stroke-width="1.2" />
<line x1="403.84" y1="252.55" x2="403.84" y2="255.05" stroke="#1e1e1e" stroke-width="1.2" />
<line x1="413.38" y1="252.55" x2="413.38" y2="255.05" stroke="#1e1e1e" stroke-width="1.2" />
<line x1="422.92" y1="252.55" x2="422.92" y2="255.05" stroke="#1e1e1e" stroke-width="1.2" />
<line x1="432.46" y1="252.55" x2="432.46" y2="255.05" stroke="#1e1e1e" stroke-width="1.2" />
<line x1="442.00" y1="252.55" x2="442.00" y2="255.05" stroke="#1e1e1e" stroke-width="1.2" />
<line x1="451.54" y1="252.55" x2="451.54" y2="255.05" stroke="#1e1e1e" stroke-width="1.2" />
<line x1="461.08" y1="252.55" x2="461.08" y2="255.05" stroke="#1e1e1e" stroke-width="1.2" />
<line x1="470.62" y1="252.55" x2="470.62" y2="255.05" stroke="#1e1e1e" stroke-width="1.2" />
<line x1="480.16" y1="252.55" x2="480.16" y2="255.05" stroke="#1e1e1e" stroke-width="1.2" />
<line x1="489.70" y1="252.55" x2="489.70" y2="255.05" stroke="#1e1e1e" stroke-width="1.2" />
<line x1="499.24" y1="252.55" x2="499.24" y2="255.05" stroke="#1e1e1e" stroke-width="1.2" />
<line x1="508.78" y1="252.55" x2="508.78" y2="255.05" stroke="#1e1e1e" stroke-width="1.2" />
<text x="0.00" y="0.00" font-size="7.3" text-anchor="end" fill="#2e2e2e" font-weight="normal" dominant-baseline="central" transform="translate(395.80,259.65) rotate(-45)" stroke="#2e2e2e" stroke-width="0.18" letter-spacing="0.6">0</text>
<text x="0.00" y="0.00" font-size="7.3" text-anchor="end" fill="#2e2e2e" font-weight="normal" dominant-baseline="central" transform="translate(405.34,259.65) rotate(-45)" stroke="#2e2e2e" stroke-width="0.18" letter-spacing="0.6">2</text>
<text x="0.00" y="0.00" font-size="7.3" text-anchor="end" fill="#2e2e2e" font-weight="normal" dominant-baseline="central" transform="translate(414.88,259.65) rotate(-45)" stroke="#2e2e2e" stroke-width="0.18" letter-spacing="0.6">4</text>
<text x="0.00" y="0.00" font-size="7.3" text-anchor="end" fill="#2e2e2e" font-weight="normal" dominant-baseline="central" transform="translate(424.42,259.65) rotate(-45)" stroke="#2e2e2e" stroke-width="0.18" letter-spacing="0.6">6</text>
<text x="0.00" y="0.00" font-size="7.3" text-anchor="end" fill="#2e2e2e" font-weight="normal" dominant-baseline="central" transform="translate(433.96,259.65) rotate(-45)" stroke="#2e2e2e" stroke-width="0.18" letter-spacing="0.6">8</text>
<text x="0.00" y="0.00" font-size="7.3" text-anchor="end" fill="#2e2e2e" font-weight="normal" dominant-baseline="central" transform="translate(443.50,259.65) rotate(-45)" stroke="#2e2e2e" stroke-width="0.18" letter-spacing="0.6">10</text>
<text x="0.00" y="0.00" font-size="7.3" text-anchor="end" fill="#2e2e2e" font-weight="normal" dominant-baseline="central" transform="translate(453.04,259.65) rotate(-45)" stroke="#2e2e2e" stroke-width="0.18" letter-spacing="0.6">12</text>
<text x="0.00" y="0.00" font-size="7.3" text-anchor="end" fill="#2e2e2e" font-weight="normal" dominant-baseline="central" transform="translate(462.58,259.65) rotate(-45)" stroke="#2e2e2e" stroke-width="0.18" letter-spacing="0.6">14</text>
<text x="0.00" y="0.00" font-size="7.3" text-anchor="end" fill="#2e2e2e" font-weight="normal" dominant-baseline="central" transform="translate(472.12,259.65) rotate(-45)" stroke="#2e2e2e" stroke-width="0.18" letter-spacing="0.6">16</text>
<text x="0.00" y="0.00" font-size="7.3" text-anchor="end" fill="#2e2e2e" font-weight="normal" dominant-baseline="central" transform="translate(481.66,259.65) rotate(-45)" stroke="#2e2e2e" stroke-width="0.18" letter-spacing="0.6">18</text>
<text x="0.00" y="0.00" font-size="7.3" text-anchor="end" fill="#2e2e2e" font-weight="normal" dominant-baseline="central" transform="translate(491.20,259.65) rotate(-45)" stroke="#2e2e2e" stroke-width="0.18" letter-spacing="0.6">20</text>
<text x="0.00" y="0.00" font-size="7.3" text-anchor="end" fill="#2e2e2e" font-weight="normal" dominant-baseline="central" transform="translate(500.74,259.65) rotate(-45)" stroke="#2e2e2e" stroke-width="0.18" letter-spacing="0.6">22</text>
<text x="0.00" y="0.00" font-size="7.3" text-anchor="end" fill="#2e2e2e" font-weight="normal" dominant-baseline="central" transform="translate(510.28,259.65) rotate(-45)" stroke="#2e2e2e" stroke-width="0.18" letter-spacing="0.6">24</text>
<text x="452.60" y="167.10" font-size="9.0" text-anchor="middle" fill="#222" font-weight="normal" dominant-baseline="alphabetic" stroke="#222" stroke-width="0.15">IV Dosing</text>
<text x="0.00" y="0.00" font-size="8.2" text-anchor="middle" fill="#2a2a2a" font-weight="normal" dominant-baseline="central" transform="translate(452.80,276.10) scale(0.77,1)" stroke="#2a2a2a" stroke-width="0.35">Time (h)</text>
<text x="0.00" y="0.00" font-size="7.9" text-anchor="middle" fill="#333" font-weight="bold" dominant-baseline="central" transform="translate(358.50,215.50) rotate(-90) scale(0.85,1)" >PA4 (μM)</text>
<polyline fill="none" stroke="#f0a02c" stroke-width="1.1" points="394.70,192.56 395.49,198.86 396.69,202.20 399.07,205.37 403.84,206.00 413.38,210.44 422.92,213.33 432.46,215.41 508.78,223.44"/>
<line x1="394.70" y1="190.01" x2="394.70" y2="196.57" stroke="#f2bc66" stroke-width="0.75" />
<line x1="393.10" y1="190.01" x2="396.30" y2="190.01" stroke="#f2bc66" stroke-width="0.75" />
<line x1="393.10" y1="196.57" x2="396.30" y2="196.57" stroke="#f2bc66" stroke-width="0.75" />
<rect x="393.55" y="191.41" width="2.3" height="2.3" fill="#e0801e"/>
<rect x="394.34" y="197.71" width="2.3" height="2.3" fill="#e0801e"/>
<rect x="395.54" y="201.05" width="2.3" height="2.3" fill="#e0801e"/>
<line x1="399.07" y1="203.54" x2="399.07" y2="207.38" stroke="#f2bc66" stroke-width="0.75" />
<line x1="397.47" y1="203.54" x2="400.67" y2="203.54" stroke="#f2bc66" stroke-width="0.75" />
<line x1="397.47" y1="207.38" x2="400.67" y2="207.38" stroke="#f2bc66" stroke-width="0.75" />
<rect x="397.92" y="204.22" width="2.3" height="2.3" fill="#e0801e"/>
<line x1="403.84" y1="203.94" x2="403.84" y2="208.15" stroke="#f2bc66" stroke-width="0.75" />
<line x1="402.24" y1="203.94" x2="405.44" y2="203.94" stroke="#f2bc66" stroke-width="0.75" />
<line x1="402.24" y1="208.15" x2="405.44" y2="208.15" stroke="#f2bc66" stroke-width="0.75" />
<rect x="402.69" y="204.85" width="2.3" height="2.3" fill="#e0801e"/>
<rect x="412.23" y="209.29" width="2.3" height="2.3" fill="#e0801e"/>
<line x1="422.92" y1="210.56" x2="422.92" y2="216.19" stroke="#f2bc66" stroke-width="0.75" />
<line x1="421.32" y1="210.56" x2="424.52" y2="210.56" stroke="#f2bc66" stroke-width="0.75" />
<line x1="421.32" y1="216.19" x2="424.52" y2="216.19" stroke="#f2bc66" stroke-width="0.75" />
<rect x="421.77" y="212.18" width="2.3" height="2.3" fill="#e0801e"/>
<line x1="432.46" y1="213.65" x2="432.46" y2="217.49" stroke="#f2bc66" stroke-width="0.75" />
<line x1="430.86" y1="213.65" x2="434.06" y2="213.65" stroke="#f2bc66" stroke-width="0.75" />
<line x1="430.86" y1="217.49" x2="434.06" y2="217.49" stroke="#f2bc66" stroke-width="0.75" />
<rect x="431.31" y="214.26" width="2.3" height="2.3" fill="#e0801e"/>
<line x1="508.78" y1="220.98" x2="508.78" y2="226.10" stroke="#f2bc66" stroke-width="0.75" />
<line x1="507.18" y1="220.98" x2="510.38" y2="220.98" stroke="#f2bc66" stroke-width="0.75" />
<line x1="507.18" y1="226.10" x2="510.38" y2="226.10" stroke="#f2bc66" stroke-width="0.75" />
<rect x="507.63" y="222.29" width="2.3" height="2.3" fill="#e0801e"/>
<rect x="0.5" y="0.5" width="519" height="292" fill="none" stroke="#666" stroke-width="1.2"/>
</svg>
</body></html>
